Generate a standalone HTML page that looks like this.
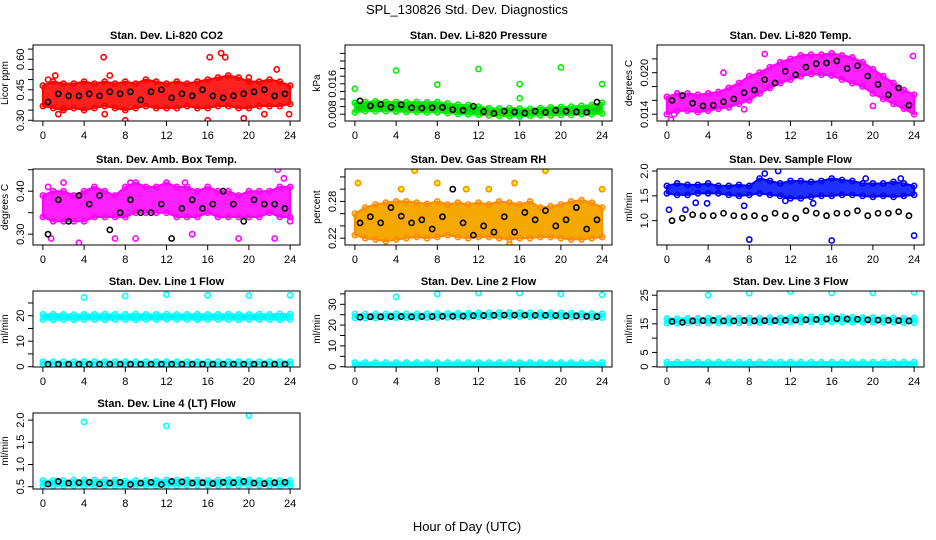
<!DOCTYPE html>
<html><head><meta charset="utf-8">
<style>
html,body{margin:0;padding:0;background:#fff;}
svg{display:block;font-family:"Liberation Sans",Arial,sans-serif;}
</style></head>
<body>
<svg id="chart" width="936" height="540" viewBox="0 0 936 540">
<text x="467" y="14" text-anchor="middle" font-size="13">SPL_130826  Std. Dev. Diagnostics</text>
<text x="467" y="531" text-anchor="middle" font-size="13">Hour of Day (UTC)</text>
</svg>
<script>
// ---- data ----
const hrs = [0,1,2,3,4,5,6,7,8,9,10,11,12,13,14,15,16,17,18,19,20,21,22,23,24];
const blackHrs = [0.5,1.5,2.5,3.5,4.5,5.5,6.5,7.5,8.5,9.5,10.5,11.5,12.5,13.5,14.5,15.5,16.5,17.5,18.5,19.5,20.5,21.5,22.5,23.5];
const xTicks = [0,4,8,12,16,20,24];

const co2Lo = [0.37,0.36,0.35,0.36,0.35,0.36,0.37,0.36,0.35,0.36,0.37,0.36,0.36,0.36,0.37,0.36,0.36,0.37,0.37,0.36,0.36,0.37,0.37,0.37,0.38];
const co2Hi = [0.47,0.49,0.48,0.48,0.49,0.48,0.49,0.48,0.49,0.48,0.50,0.49,0.48,0.49,0.48,0.49,0.50,0.51,0.52,0.51,0.49,0.49,0.50,0.49,0.47];
const co2Black = [0.39,0.43,0.42,0.42,0.43,0.42,0.44,0.43,0.44,0.40,0.44,0.45,0.41,0.43,0.42,0.45,0.42,0.41,0.42,0.43,0.44,0.45,0.42,0.43];
const co2OutX = [1.5,2,5.9,6,8,16,16.2,17.3,17.7,19.5,20,21.5,22.7,23.9,0.5,1.2,6.5];
const co2OutY = [0.33,0.36,0.61,0.33,0.30,0.30,0.61,0.63,0.61,0.31,0.51,0.33,0.55,0.33,0.50,0.52,0.52];

const presLo = [0.0085,0.0088,0.0088,0.0088,0.0087,0.0086,0.0086,0.0085,0.0085,0.0083,0.0081,0.0080,0.0079,0.0077,0.0076,0.0075,0.0074,0.0076,0.0077,0.0077,0.0078,0.0078,0.0080,0.0080,0.0082];
const presHi = [0.0110,0.0112,0.0114,0.0112,0.0112,0.0111,0.0112,0.0111,0.0112,0.0108,0.0105,0.0104,0.0100,0.0096,0.0095,0.0096,0.0095,0.0094,0.0096,0.0098,0.0099,0.0100,0.0102,0.0104,0.0110];
const presBlack = [0.0115,0.0102,0.0106,0.0098,0.0105,0.0097,0.0096,0.0097,0.0098,0.0092,0.0090,0.0101,0.0087,0.0082,0.0088,0.0086,0.0083,0.0088,0.0085,0.0090,0.0088,0.0086,0.0085,0.0112];
const presOutX = [0,4,8,12,16,16,20,24];
const presOutY = [0.0147,0.0195,0.0158,0.0199,0.0159,0.0122,0.0203,0.0159];

const tempLo = [0.0140,0.0145,0.0145,0.0143,0.0145,0.0148,0.0150,0.0155,0.0160,0.0170,0.0178,0.0185,0.0190,0.0195,0.0198,0.0197,0.0196,0.0190,0.0185,0.0180,0.0170,0.0162,0.0155,0.0148,0.0140];
const tempHi = [0.0165,0.0170,0.0170,0.0168,0.0170,0.0172,0.0178,0.0185,0.0195,0.0200,0.0208,0.0215,0.0220,0.0225,0.0226,0.0226,0.0228,0.0225,0.0222,0.0215,0.0205,0.0195,0.0185,0.0175,0.0168];
const tempBlack = [0.0160,0.0167,0.0156,0.0152,0.0153,0.0158,0.0162,0.0171,0.0175,0.0190,0.0185,0.0202,0.0197,0.0208,0.0213,0.0214,0.0217,0.0206,0.0210,0.0195,0.0183,0.0168,0.0178,0.0153];
const tempOutX = [0.4,0.7,23.9,20,7.5,9.5,5.5];
const tempOutY = [0.0132,0.0140,0.0224,0.0152,0.0147,0.0227,0.0200];

const ambLo = [0.34,0.33,0.33,0.33,0.33,0.34,0.34,0.34,0.34,0.35,0.35,0.35,0.35,0.34,0.34,0.34,0.35,0.34,0.34,0.34,0.34,0.34,0.35,0.34,0.34];
const ambHi = [0.39,0.40,0.40,0.39,0.40,0.41,0.40,0.39,0.41,0.42,0.41,0.41,0.42,0.41,0.41,0.40,0.41,0.40,0.40,0.39,0.40,0.40,0.40,0.41,0.41];
const ambBlack = [0.30,0.38,0.33,0.39,0.37,0.39,0.31,0.35,0.38,0.35,0.35,0.37,0.29,0.36,0.38,0.36,0.37,0.40,0.37,0.33,0.38,0.37,0.37,0.36];
const ambOutX = [0.5,0.8,2,3.5,7,8.5,9,13.8,22.5,22.8,23.4,24,14.5,19];
const ambOutY = [0.41,0.29,0.42,0.28,0.29,0.42,0.29,0.42,0.29,0.45,0.43,0.33,0.30,0.29];

const rhLo = [0.225,0.220,0.218,0.215,0.218,0.220,0.222,0.220,0.222,0.225,0.222,0.220,0.222,0.222,0.220,0.218,0.220,0.220,0.222,0.222,0.220,0.218,0.218,0.220,0.222];
const rhHi = [0.260,0.270,0.275,0.278,0.280,0.280,0.278,0.276,0.280,0.275,0.278,0.275,0.278,0.275,0.280,0.278,0.275,0.280,0.270,0.272,0.275,0.280,0.282,0.278,0.270];
const rhBlack = [0.245,0.255,0.245,0.270,0.256,0.245,0.250,0.235,0.255,0.300,0.245,0.225,0.240,0.230,0.255,0.230,0.262,0.250,0.265,0.240,0.250,0.270,0.235,0.250];
const rhOutX = [0.3,5.8,8,4.5,15.5,18.5,24,10.8,13,15];
const rhOutY = [0.31,0.33,0.31,0.30,0.31,0.33,0.30,0.30,0.30,0.21];

const flowLo = [1.55,1.52,1.52,1.55,1.55,1.55,1.52,1.50,1.52,1.55,1.52,1.50,1.45,1.45,1.48,1.50,1.50,1.52,1.52,1.50,1.48,1.50,1.48,1.50,1.52];
const flowHi = [1.70,1.75,1.72,1.72,1.75,1.70,1.70,1.72,1.70,1.85,1.80,1.75,1.80,1.80,1.78,1.80,1.85,1.82,1.80,1.75,1.75,1.75,1.78,1.75,1.70];
const flowBlack = [1.00,1.05,1.12,1.10,1.10,1.15,1.10,1.08,1.10,1.05,1.15,1.10,1.05,1.20,1.15,1.10,1.15,1.15,1.20,1.10,1.15,1.15,1.18,1.10];
const flowOutX = [0.2,8,16,24,1.8,2.8,3.9,7.5,9.5,10.8,11.5,19.3,22.7,14.2];
const flowOutY = [1.22,0.62,0.60,0.70,1.22,1.36,1.35,1.30,1.95,2.0,1.40,1.85,1.85,1.35];

const l1UpLo = [18.5,18.4,18.5,18.4,18.5,18.5,18.4,18.5,18.5,18.4,18.5,18.5,18.6,18.5,18.5,18.4,18.5,18.5,18.5,18.4,18.5,18.5,18.5,18.4,18.5];
const l1UpHi = [20.5,20.6,20.5,20.4,20.5,20.5,20.6,20.5,20.5,20.6,20.5,20.5,20.6,20.5,20.5,20.6,20.5,20.5,20.6,20.5,20.5,20.6,20.5,20.7,20.6];
const l1DnLo = [0.8,0.8,0.8,0.8,0.8,0.8,0.8,0.8,0.8,0.8,0.8,0.8,0.8,0.8,0.8,0.8,0.8,0.8,0.8,0.8,0.8,0.8,0.8,0.8,0.8];
const l1DnHi = [2.0,2.0,2.0,2.0,2.0,2.0,2.0,2.0,2.0,2.0,2.0,2.0,2.0,2.0,2.0,2.0,2.0,2.0,2.0,2.0,2.0,2.0,2.0,2.0,2.0];
const l1Black = [1.0,1.0,1.0,1.0,1.0,1.0,1.0,1.0,1.0,1.0,1.0,1.0,1.0,1.0,1.0,1.0,1.0,1.0,1.0,1.0,1.0,1.0,1.0,1.0];
const l1OutX = [4,8,12,16,20,24];
const l1OutY = [27.2,27.7,28.3,28.0,27.9,28.0];

const l2UpLo = [23.5,23.4,23.5,23.5,23.6,23.5,23.5,23.6,23.6,23.7,23.8,23.8,24.0,24.0,24.1,24.1,24.1,24.0,24.0,23.9,23.9,23.8,23.8,23.7,23.6];
const l2UpHi = [25.3,25.3,25.4,25.4,25.5,25.4,25.4,25.5,25.6,25.6,25.7,25.7,25.9,25.9,26.0,26.0,26.0,25.9,25.9,25.8,25.8,25.7,25.7,25.6,25.5];
const l2DnLo = [0.6,0.6,0.6,0.6,0.6,0.6,0.6,0.6,0.6,0.6,0.6,0.6,0.6,0.6,0.6,0.6,0.6,0.6,0.6,0.6,0.6,0.6,0.6,0.6,0.6];
const l2DnHi = [2.0,2.0,2.0,2.0,2.0,2.0,2.0,2.0,2.0,2.0,2.0,2.0,2.0,2.0,2.0,2.0,2.0,2.0,2.0,2.0,2.0,2.0,2.0,2.0,2.0];
const l2Black = [23.8,24.0,24.0,24.1,24.1,24.0,24.1,24.1,24.2,24.2,24.3,24.5,24.6,24.7,24.8,24.8,24.8,24.7,24.7,24.6,24.4,24.4,24.2,24.1];
const l2OutX = [4,8,12,16,20,24];
const l2OutY = [33.6,35.0,35.4,35.4,35.0,34.6];

const l3UpLo = [15.2,15.2,15.3,15.3,15.3,15.3,15.3,15.3,15.4,15.4,15.5,15.5,15.6,15.6,15.7,15.7,15.7,15.7,15.6,15.6,15.5,15.5,15.5,15.4,15.4];
const l3UpHi = [16.8,16.8,16.9,16.9,17.0,16.9,16.9,17.0,17.0,17.0,17.1,17.1,17.3,17.3,17.4,17.4,17.5,17.4,17.3,17.2,17.2,17.1,17.1,17.0,17.0];
const l3DnLo = [0.4,0.4,0.4,0.4,0.4,0.4,0.4,0.4,0.4,0.4,0.4,0.4,0.4,0.4,0.4,0.4,0.4,0.4,0.4,0.4,0.4,0.4,0.4,0.4,0.4];
const l3DnHi = [1.6,1.6,1.6,1.6,1.6,1.6,1.6,1.6,1.6,1.6,1.6,1.6,1.6,1.6,1.6,1.6,1.6,1.6,1.6,1.6,1.6,1.6,1.6,1.6,1.6];
const l3Black = [15.8,15.5,16.0,16.1,16.2,16.0,16.0,16.1,16.0,16.1,16.1,16.2,16.3,16.4,16.5,16.7,16.8,16.7,16.6,16.4,16.3,16.2,16.1,16.0];
const l3OutX = [4,8,12,16,20,24];
const l3OutY = [25.0,25.7,26.3,25.8,25.8,26.0];

const l4Lo = [0.52,0.52,0.52,0.52,0.52,0.52,0.52,0.52,0.50,0.52,0.52,0.52,0.52,0.52,0.53,0.53,0.53,0.53,0.53,0.53,0.53,0.53,0.52,0.52,0.52];
const l4Hi = [0.64,0.64,0.64,0.65,0.65,0.65,0.65,0.65,0.63,0.64,0.64,0.64,0.65,0.65,0.65,0.65,0.64,0.65,0.66,0.66,0.65,0.64,0.64,0.64,0.64];
const l4Black = [0.56,0.62,0.58,0.59,0.60,0.56,0.58,0.60,0.55,0.58,0.60,0.55,0.62,0.61,0.58,0.59,0.57,0.60,0.59,0.62,0.58,0.57,0.59,0.60];
const l4OutX = [4,12,20];
const l4OutY = [1.96,1.87,2.10];

// ---- drawing ----
const NS = "http://www.w3.org/2000/svg";
const svg = document.getElementById('chart');
function mk(tag, attrs, parent){
  const e = document.createElementNS(NS, tag);
  for (const k in attrs) e.setAttribute(k, attrs[k]);
  (parent||svg).appendChild(e);
  return e;
}
const XMIN=-0.96, XMAX=24.96, PW=267, PH=76;

function panel(p){
  const g = mk('g', {});
  
  
  const sx = h => p.x + (h - XMIN) / (XMAX - XMIN) * PW;
  const sy = v => p.y + PH - (v - p.ymin) / (p.ymax - p.ymin) * PH;
  const t = mk('text', {x: p.x + PW/2, y: p.y - 6, 'text-anchor':'middle', 'font-size':11, 'font-weight':'bold'}, g);
  t.textContent = p.title;
  
  
  const clip = 'clip-' + p.name;
  const cp = mk('clipPath', {id: clip}, g);
  mk('rect', {x:p.x, y:p.y, width:PW, height:PH}, cp);
  const dg = mk('g', {'clip-path':'url(#'+clip+')'}, g);
  p.bands.forEach((b, bi) => {
    let pts = [];
    for (let i=0;i<hrs.length;i++) pts.push(sx(hrs[i]) + ',' + sy(b.hi[i]));
    for (let i=hrs.length-1;i>=0;i--) pts.push(sx(hrs[i]) + ',' + sy(b.lo[i]));
    const poly = mk('polygon', {points: pts.join(' '), fill: p.fill, stroke: p.color, 'stroke-width': 2, 'stroke-linejoin':'round'}, dg);
    
    
    [b.lo, b.hi].forEach(arr => {
      for (let i=0;i<hrs.length;i++){
        const c = mk('circle', {cx: sx(hrs[i]), cy: sy(arr[i]), r: 2.6, fill:'none', stroke: p.color, 'stroke-width':1.6}, dg);
        
        
      }
    });
  });
  for (let i=0;i<p.outX.length;i++){
    const c = mk('circle', {cx: sx(p.outX[i]), cy: sy(p.outY[i]), r: 2.6, fill: p.outFill || 'none', stroke: p.color, 'stroke-width':1.6}, dg);
    
    
  }
  for (let i=0;i<blackHrs.length;i++){
    const c = mk('circle', {cx: sx(blackHrs[i]), cy: sy(p.black[i]), r: 2.6, fill:'none', stroke:'#000', 'stroke-width':1.6}, dg);
    
    
  }
  const box = mk('rect', {x:p.x, y:p.y, width:PW, height:PH, fill:'none', stroke:'#000', 'stroke-width':1}, g);
  
  
  const by = p.y + PH;
  xTicks.forEach(h => {
    mk('line', {x1:sx(h), x2:sx(h), y1:by, y2:by+5, stroke:'#000'}, g);
    const tl = mk('text', {x:sx(h), y:by+18, 'text-anchor':'middle', 'font-size':11}, g);
    tl.textContent = h;
    
    
  });
  p.yTicks.forEach(v => {
    mk('line', {x1:p.x-5, x2:p.x, y1:sy(v), y2:sy(v), stroke:'#000'}, g);
  });
  p.yLabels.forEach(v => {
    const lx = p.x - 9, ly = sy(v);
    const tl = mk('text', {x:lx, y:ly, 'text-anchor':'middle', 'font-size':11, transform:'rotate(-90 '+lx+' '+ly+')'}, g);
    tl.textContent = v;
    
    
  });
  const yx = p.x - 25, yy = p.y + PH/2;
  const yt = mk('text', {x:yx, y:yy, 'text-anchor':'middle', 'font-size':10, transform:'rotate(-90 '+yx+' '+yy+')'}, g);
  yt.textContent = p.ytitle;
  
  
}

const C1=33, C2=345, C3=657, R1=45, R2=169, R3=291, R4=413;
const panels = [
 {name:'co2', title:'Stan. Dev. Li-820 CO2', ytitle:'Licor ppm', x:C1, y:R1, ymin:0.2965, ymax:0.670, color:'#ff0000', fill:'#ff2020',
  bands:[{lo:co2Lo, hi:co2Hi}], black:co2Black, outX:co2OutX, outY:co2OutY,
  yTicks:[0.30,0.35,0.40,0.45,0.50,0.55,0.60,0.65], yLabels:['0.30','0.45','0.60']},
 {name:'pressure', title:'Stan. Dev. Li-820 Pressure', ytitle:'kPa', x:C2, y:R1, ymin:0.00621, ymax:0.02621, color:'#00ee00', fill:'#10d010',
  bands:[{lo:presLo, hi:presHi}], black:presBlack, outX:presOutX, outY:presOutY,
  yTicks:[0.008,0.010,0.012,0.014,0.016,0.018,0.020,0.022,0.024], yLabels:['0.008','0.016']},
 {name:'li820-temp', title:'Stan. Dev. Li-820 Temp.', ytitle:'degrees C', x:C3, y:R1, ymin:0.01302, ymax:0.0240, color:'#ff00ff', fill:'#ff20ff',
  bands:[{lo:tempLo, hi:tempHi}], black:tempBlack, outX:tempOutX, outY:tempOutY,
  yTicks:[0.014,0.016,0.018,0.020,0.022], yLabels:['0.014','0.020']},
 {name:'amb-box-temp', title:'Stan. Dev. Amb. Box Temp.', ytitle:'degrees C', x:C1, y:R2, ymin:0.2748, ymax:0.4517, color:'#ff00ff', fill:'#ff20ff',
  bands:[{lo:ambLo, hi:ambHi}], black:ambBlack, outX:ambOutX, outY:ambOutY,
  yTicks:[0.30,0.35,0.40,0.45], yLabels:['0.30','0.40']},
 {name:'gas-stream-rh', title:'Stan. Dev. Gas Stream RH', ytitle:'percent', x:C2, y:R2, ymin:0.2089, ymax:0.3329, color:'#ff8c00', fill:'#f5a800', outFill:'#ffff00',
  bands:[{lo:rhLo, hi:rhHi}], black:rhBlack, outX:rhOutX, outY:rhOutY,
  yTicks:[0.22,0.24,0.26,0.28,0.30,0.32], yLabels:['0.22','0.28']},
 {name:'sample-flow', title:'Stan. Dev. Sample Flow', ytitle:'ml/min', x:C3, y:R2, ymin:0.510, ymax:2.041, color:'#0000ff', fill:'#2030ff',
  bands:[{lo:flowLo, hi:flowHi}], black:flowBlack, outX:flowOutX, outY:flowOutY,
  yTicks:[1.0,1.5,2.0], yLabels:['1.0','1.5','2.0']},
 {name:'line1-flow', title:'Stan. Dev. Line 1 Flow', ytitle:'ml/min', x:C1, y:R3, ymin:-0.12, ymax:29.69, color:'#00ffff', fill:'#00f0f0',
  bands:[{lo:l1UpLo, hi:l1UpHi},{lo:l1DnLo, hi:l1DnHi}], black:l1Black, outX:l1OutX, outY:l1OutY,
  yTicks:[0,5,10,15,20,25], yLabels:['0','10','20']},
 {name:'line2-flow', title:'Stan. Dev. Line 2 Flow', ytitle:'ml/min', x:C2, y:R3, ymin:-0.14, ymax:36.4, color:'#00ffff', fill:'#00f0f0',
  bands:[{lo:l2UpLo, hi:l2UpHi},{lo:l2DnLo, hi:l2DnHi}], black:l2Black, outX:l2OutX, outY:l2OutY,
  yTicks:[0,5,10,15,20,25,30,35], yLabels:['0','10','20','30']},
 {name:'line3-flow', title:'Stan. Dev. Line 3 Flow', ytitle:'ml/min', x:C3, y:R3, ymin:-0.1, ymax:26.47, color:'#00ffff', fill:'#00f0f0',
  bands:[{lo:l3UpLo, hi:l3UpHi},{lo:l3DnLo, hi:l3DnHi}], black:l3Black, outX:l3OutX, outY:l3OutY,
  yTicks:[0,5,10,15,20,25], yLabels:['0','5','15','25']},
 {name:'line4-flow', title:'Stan. Dev. Line 4 (LT) Flow', ytitle:'ml/min', x:C1, y:R4, ymin:0.448, ymax:2.16, color:'#00ffff', fill:'#00f0f0',
  bands:[{lo:l4Lo, hi:l4Hi}], black:l4Black, outX:l4OutX, outY:l4OutY,
  yTicks:[0.5,1.0,1.5,2.0], yLabels:['0.5','1.0','1.5','2.0']}
];
panels.forEach(panel);
</script>
</body></html>
